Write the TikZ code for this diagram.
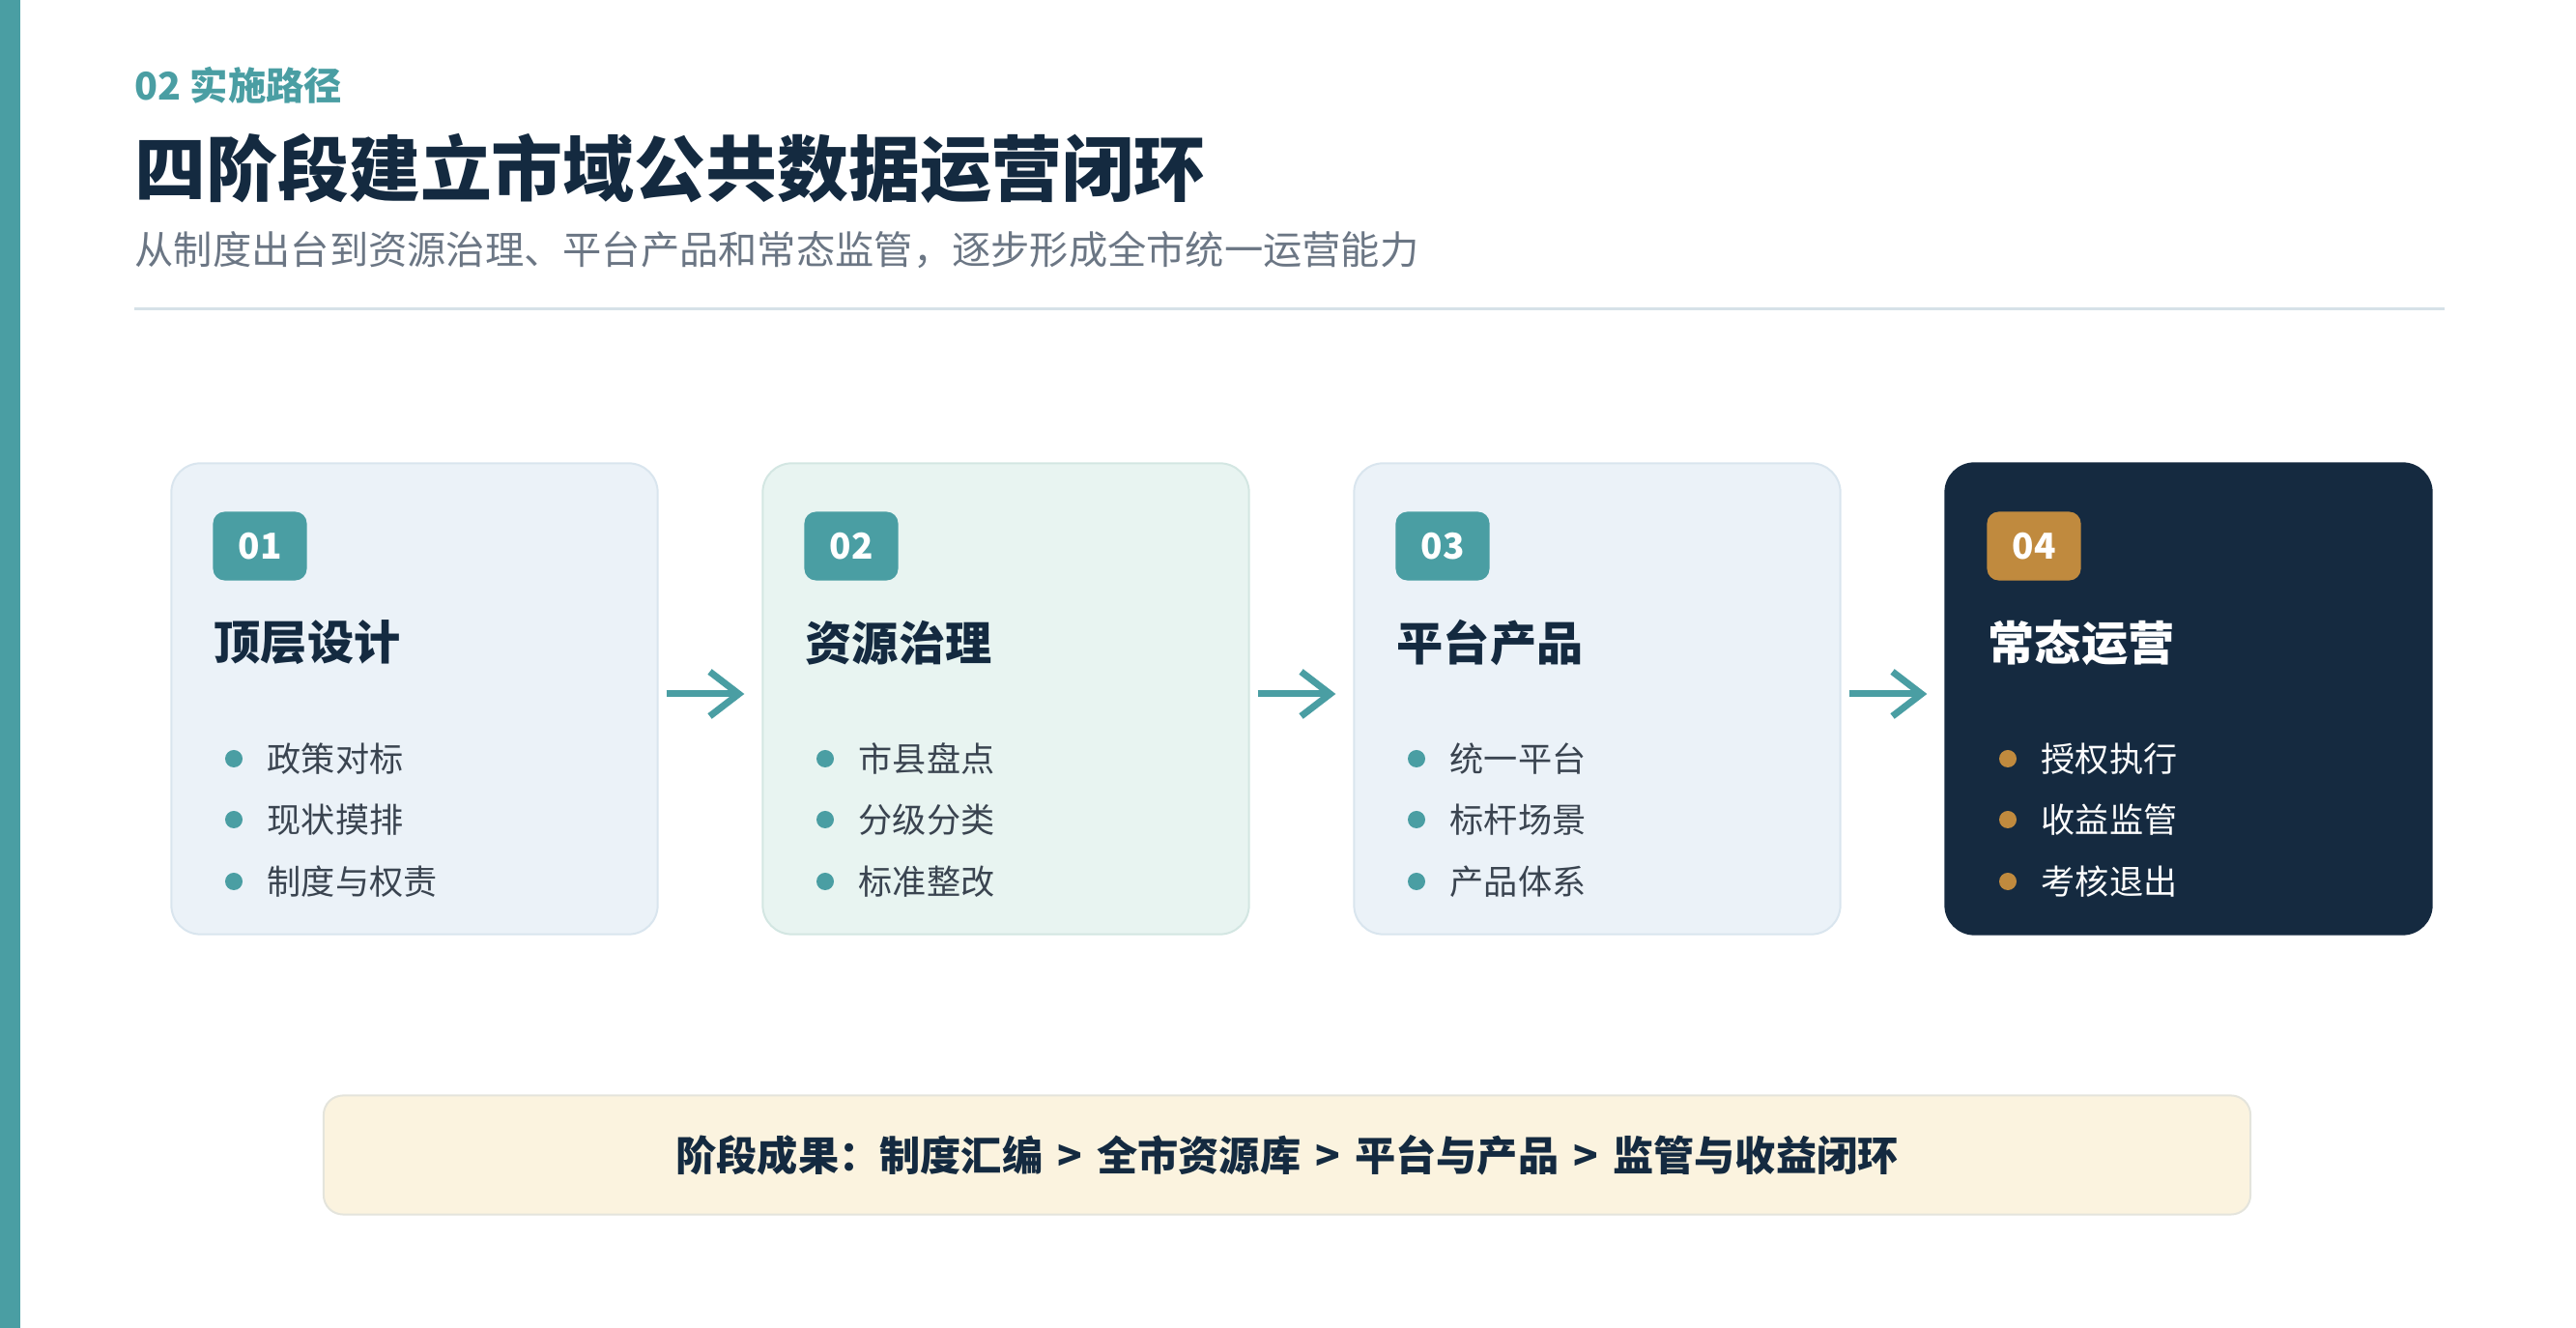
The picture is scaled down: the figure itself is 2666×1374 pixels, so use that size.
\documentclass[tikz,border=0pt]{standalone}
\usepackage{fontspec}
\setmainfont{Noto Sans CJK SC}
\usetikzlibrary{arrows.meta}

\definecolor{cteal}{HTML}{4A9EA3}
\definecolor{cnavy}{HTML}{142A40}
\definecolor{cgray}{HTML}{6B7684}
\definecolor{ctext}{HTML}{3A4450}
\definecolor{crule}{HTML}{D6E1E8}
\definecolor{cblue}{HTML}{EBF2F8}
\definecolor{cblueline}{HTML}{D9E5EE}
\definecolor{cgreen}{HTML}{E8F4F1}
\definecolor{cgreenline}{HTML}{D3E6E2}
\definecolor{cdark}{HTML}{152A40}
\definecolor{cgold}{HTML}{C08A3E}
\definecolor{ccream}{HTML}{FBF3DF}
\definecolor{ccreamline}{HTML}{E4E4DC}

\begin{document}
\begin{tikzpicture}[x=0.01cm, y=-0.01cm,
	kicker/.style = {anchor=west, inner sep=0, text=cteal, font=\fontsize{11.2}{13}\selectfont\bfseries},
	title/.style  = {anchor=west, inner sep=0, text=cnavy, font=\fontsize{21}{25}\selectfont\bfseries},
	sub/.style    = {anchor=west, inner sep=0, text=cgray, font=\fontsize{11.45}{14}\selectfont},
	card/.style   = {draw=cblueline, fill=cblue, line width=0.02cm, rounded corners=0.3cm,
	                 minimum width=5.03cm, minimum height=4.87cm, inner sep=0},
	badge/.style  = {fill=cteal, rounded corners=0.12cm, minimum width=0.97cm, minimum height=0.71cm,
	                 inner sep=0, text=white, font=\fontsize{10.5}{12}\selectfont\bfseries},
	head/.style   = {anchor=west, inner sep=0, text=cnavy, font=\fontsize{13.7}{16}\selectfont\bfseries},
	item/.style   = {anchor=west, inner sep=0, text=ctext, font=\fontsize{10}{12}\selectfont},
	dot/.style    = {circle, fill=cteal, minimum size=0.18cm, inner sep=0},
	flow/.style   = {draw=cteal, line width=0.07cm, -{Straight Barb[length=0.3cm, width=0.46cm]},
	                 shorten <=0.08cm, shorten >=0.18cm},
	bar/.style    = {draw=ccreamline, fill=ccream, line width=0.02cm, rounded corners=0.2cm,
	                 minimum width=19.93cm, minimum height=1.23cm, text=cnavy,
	                 font=\fontsize{12}{14}\selectfont\bfseries}]
	\useasboundingbox (0,0) rectangle (2666,1374);
	\fill[cteal] (0,0) rectangle (21,1374);
	% header
	\node[kicker] (kicker) at (139,88) {02 实施路径};
	\node[title] (title) at (139,174) {四阶段建立市域公共数据运营闭环};
	\node[sub] (subtitle) at (139,259) {从制度出台到资源治理、平台产品和常态监管，逐步形成全市统一运营能力};
	\draw[crule, line width=0.03cm] (139,320) -- (2530,320);
	% stage 1
	\node[card] (card1) at (429,723) {};
	\node[badge] (b1) at (269,565) {01};
	\node[head] (h1) at (221,665) {顶层设计};
	\node[dot] at (242,785) {}; \node[item] (i11) at (276,785) {政策对标};
	\node[dot] at (242,848) {}; \node[item] (i12) at (276,848) {现状摸排};
	\node[dot] at (242,912) {}; \node[item] (i13) at (276,912) {制度与权责};
	% stage 2
	\node[card, fill=cgreen, draw=cgreenline] (card2) at (1041,723) {};
	\node[badge] (b2) at (881,565) {02};
	\node[head] (h2) at (833,665) {资源治理};
	\node[dot] at (854,785) {}; \node[item] (i21) at (888,785) {市县盘点};
	\node[dot] at (854,848) {}; \node[item] (i22) at (888,848) {分级分类};
	\node[dot] at (854,912) {}; \node[item] (i23) at (888,912) {标准整改};
	% stage 3
	\node[card] (card3) at (1653,723) {};
	\node[badge] (b3) at (1493,565) {03};
	\node[head] (h3) at (1445,665) {平台产品};
	\node[dot] at (1466,785) {}; \node[item] (i31) at (1500,785) {统一平台};
	\node[dot] at (1466,848) {}; \node[item] (i32) at (1500,848) {标杆场景};
	\node[dot] at (1466,912) {}; \node[item] (i33) at (1500,912) {产品体系};
	% stage 4
	\begin{scope}[card/.append style={fill=cdark, draw=cdark}, badge/.append style={fill=cgold},
	              head/.append style={text=white}, item/.append style={text=white!94!cblue},
	              dot/.append style={fill=cgold}]
	\node[card] (card4) at (2265,723) {};
	\node[badge] (b4) at (2105,565) {04};
	\node[head] (h4) at (2057,665) {常态运营};
	\node[dot] at (2078,785) {}; \node[item] (i41) at (2112,785) {授权执行};
	\node[dot] at (2078,848) {}; \node[item] (i42) at (2112,848) {收益监管};
	\node[dot] at (2078,912) {}; \node[item] (i43) at (2112,912) {考核退出};
	\end{scope}
	\draw[flow] ([yshift=0.05cm]card1.east) -- ([yshift=0.05cm]card2.west);
	\draw[flow] ([yshift=0.05cm]card2.east) -- ([yshift=0.05cm]card3.west);
	\draw[flow] ([yshift=0.05cm]card3.east) -- ([yshift=0.05cm]card4.west);
	% outcome
	\node[bar] (result) at (1332,1195) {阶段成果：制度汇编\hspace{0.13em} > \hspace{0.13em}全市资源库\hspace{0.13em} > \hspace{0.13em}平台与产品\hspace{0.13em} > \hspace{0.13em}监管与收益闭环};
\end{tikzpicture}
\end{document}
